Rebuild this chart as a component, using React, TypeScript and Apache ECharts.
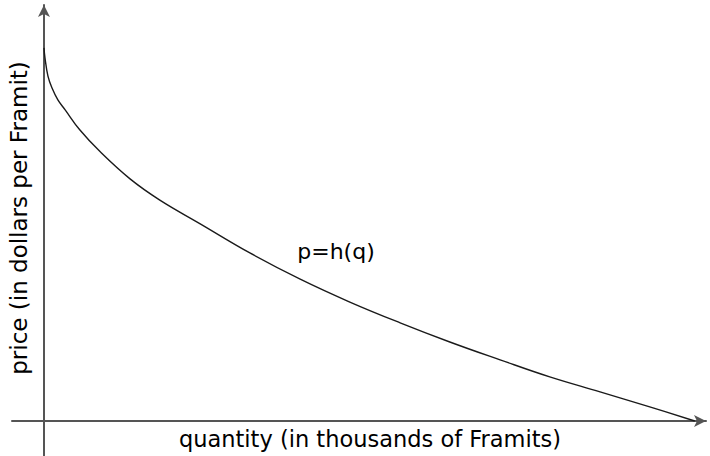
import React, { useEffect, useRef } from "react";
import * as echarts from "echarts";

// quantity (thousands of Framits) and price (dollars per Framit)
const quantity = [0, 0.15, 0.6, 1.2, 2.1, 3.2, 5.4, 8.5, 13, 17.5, 23.6, 31.1, 38.7, 46.2, 53.8, 61.3, 68.9, 76.4, 84, 91.5, 98.3];
const price = [89.7, 87.3, 82.9, 80.1, 77.2, 74.8, 70, 64.7, 58.2, 53.1, 47.4, 40.4, 34.1, 28.6, 23.6, 19, 14.7, 10.6, 7, 3.4, 0];

const xLabel = "quantity (in thousands of Framits)";
const yLabel = "price (in dollars per Framit)";
const curveLabel = "p=h(q)";

export default function App() {
  const ref = useRef<HTMLDivElement>(null);
  useEffect(() => {
    if (!ref.current) return;
    const chart = echarts.init(ref.current, undefined, { renderer: "svg" });
    const family = '"DejaVu Sans", sans-serif';
    chart.setOption({
      animation: false,
      backgroundColor: "#fff",
      grid: { left: 12, right: 4, top: 5, bottom: 0, containLabel: false },
      xAxis: {
        type: "value",
        min: -4.83,
        max: 100,
        axisLine: {
          onZero: true,
          lineStyle: { color: "#555", width: 2 },
          symbol: ["none", "arrow"],
          symbolSize: [9, 12],
        },
        axisTick: { show: false },
        axisLabel: { show: false },
        splitLine: { show: false },
      },
      yAxis: {
        type: "value",
        min: -8.41,
        max: 100,
        axisLine: {
          onZero: true,
          lineStyle: { color: "#555", width: 2 },
          symbol: ["none", "arrow"],
          symbolSize: [9, 12],
        },
        axisTick: { show: false },
        axisLabel: { show: false },
        splitLine: { show: false },
      },
      series: [
        {
          type: "line",
          data: quantity.map((q, i) => [q, price[i]]),
          smooth: 0.4,
          showSymbol: false,
          lineStyle: { color: "#1a1a1a", width: 1.4 },
        },
      ],
      graphic: [
        {
          type: "text",
          x: 370,
          y: 439,
          style: { text: xLabel, font: `22.5px ${family}`, fill: "#000", textAlign: "center", textVerticalAlign: "middle" },
        },
        {
          type: "text",
          x: 19,
          y: 218,
          rotation: Math.PI / 2,
          style: { text: yLabel, font: `23px ${family}`, fill: "#000", textAlign: "center", textVerticalAlign: "middle" },
        },
        {
          type: "text",
          x: 336,
          y: 251,
          style: { text: curveLabel, font: `22px ${family}`, fill: "#000", textAlign: "center", textVerticalAlign: "middle" },
        },
      ],
    });
    return () => chart.dispose();
  }, []);
  return (
    <div
      ref={ref}
      style={{ position: "fixed", left: 0, top: 0, width: 710, height: 456 }}
    />
  );
}
